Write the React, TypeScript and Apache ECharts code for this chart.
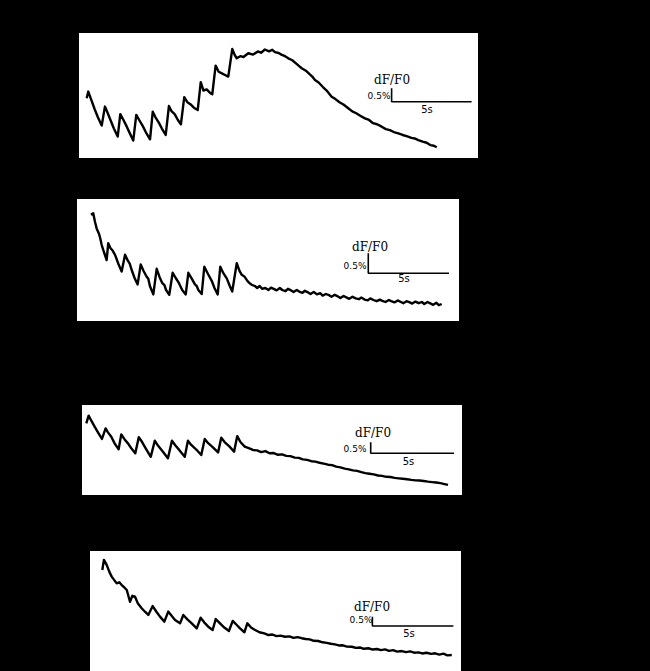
import React, { useEffect, useRef } from "react";
import * as echarts from "echarts";

// Time (s) and dF/F0 (%)
const trace1: number[][] = [
  [0, 1.93], [0.1, 2.18], [0.3, 1.85], [0.5, 1.52], [0.7, 1.22], [0.94, 0.91],
  [1.14, 1.62], [1.3, 1.4], [1.5, 1.1], [1.7, 0.8], [1.94, 0.5],
  [2.1, 1.34], [2.3, 1.12], [2.5, 0.88], [2.7, 0.62], [2.91, 0.35],
  [3.1, 1.31], [3.3, 1.1], [3.5, 0.9], [3.7, 0.66], [3.96, 0.4],
  [4.13, 1.43], [4.3, 1.22], [4.5, 1.03], [4.7, 0.8], [4.94, 0.56],
  [5.14, 1.64], [5.3, 1.45], [5.5, 1.34], [5.7, 1.12], [5.89, 0.96],
  [6.1, 1.97], [6.3, 1.78], [6.5, 1.7], [6.7, 1.58], [6.94, 1.49],
  [7.13, 2.53], [7.3, 2.22], [7.5, 2.26], [7.7, 2.14], [7.85, 2.08],
  [8.06, 3.15], [8.25, 2.92], [8.45, 2.86], [8.65, 2.8], [8.85, 2.74],
  [9.1, 3.77], [9.25, 3.55], [9.38, 3.42], [9.6, 3.5], [9.8, 3.47], [10.1, 3.61],
  [10.4, 3.56], [10.7, 3.68], [10.9, 3.63], [11.14, 3.75], [11.4, 3.68], [11.6, 3.74],
  [11.77, 3.65], [12.0, 3.62], [12.2, 3.55], [12.4, 3.5], [12.6, 3.42], [12.85, 3.35],
  [13.1, 3.22], [13.3, 3.12], [13.44, 3.05], [13.7, 2.96], [13.95, 2.82], [14.1, 2.74],
  [14.27, 2.61], [14.5, 2.52], [14.75, 2.36], [15.0, 2.22], [15.31, 1.99], [15.55, 1.9],
  [15.8, 1.78], [16.05, 1.7], [16.35, 1.56], [16.6, 1.44], [16.85, 1.37], [17.1, 1.28],
  [17.39, 1.18], [17.65, 1.12], [17.9, 1.0], [18.15, 0.96], [18.44, 0.87], [18.7, 0.78],
  [18.95, 0.74], [19.2, 0.67], [19.48, 0.62], [19.75, 0.56], [20.0, 0.52], [20.3, 0.45],
  [20.5, 0.43], [20.73, 0.37], [21.0, 0.31], [21.25, 0.27], [21.5, 0.18], [21.7, 0.16],
  [21.88, 0.1],
];

const trace2: number[][] = [
  [0, 2.38], [0.14, 2.42], [0.25, 2.2], [0.35, 2.04], [0.5, 1.9], [0.58, 1.78], [0.66, 1.63],
  [0.8, 1.45], [0.97, 1.25], [1.07, 1.67], [1.2, 1.55], [1.35, 1.48], [1.49, 1.38],
  [1.7, 1.15], [1.9, 0.96], [2.11, 1.38], [2.3, 1.22], [2.4, 1.16], [2.52, 1.0], [2.7, 0.8],
  [2.89, 0.64], [3.08, 1.14], [3.25, 0.98], [3.45, 0.83], [3.55, 0.78], [3.65, 0.6],
  [3.86, 0.39], [4.07, 1.03], [4.25, 0.82], [4.42, 0.67], [4.55, 0.62], [4.65, 0.5],
  [4.85, 0.38], [5.06, 0.93], [5.25, 0.8], [5.45, 0.67], [5.65, 0.5], [5.87, 0.39],
  [6.03, 0.93], [6.25, 0.78], [6.44, 0.64], [6.55, 0.6], [6.65, 0.5], [6.86, 0.4],
  [7.02, 1.08], [7.25, 0.9], [7.48, 0.73], [7.65, 0.55], [7.85, 0.39], [8.01, 1.08],
  [8.2, 0.92], [8.41, 0.79], [8.6, 0.6], [8.75, 0.46], [9.03, 1.17], [9.2, 0.98],
  [9.34, 0.88], [9.5, 0.84], [9.7, 0.72], [9.85, 0.66], [9.96, 0.63], [10.15, 0.6],
  [10.3, 0.55], [10.45, 0.6], [10.6, 0.53], [10.8, 0.55], [11.0, 0.5], [11.15, 0.56],
  [11.35, 0.52], [11.5, 0.49], [11.7, 0.55], [11.85, 0.5], [12.05, 0.47], [12.2, 0.53],
  [12.4, 0.49], [12.55, 0.45], [12.75, 0.5], [12.9, 0.46], [13.1, 0.43], [13.25, 0.48],
  [13.45, 0.44], [13.6, 0.4], [13.8, 0.45], [14.0, 0.39], [14.2, 0.42], [14.35, 0.36],
  [14.55, 0.4], [14.75, 0.37], [14.9, 0.33], [15.1, 0.38], [15.3, 0.34], [15.45, 0.3],
  [15.65, 0.35], [15.85, 0.31], [16.0, 0.28], [16.2, 0.33], [16.4, 0.29], [16.6, 0.27],
  [16.75, 0.31], [16.95, 0.26], [17.15, 0.24], [17.3, 0.29], [17.5, 0.25], [17.7, 0.22],
  [17.9, 0.26], [18.05, 0.23], [18.25, 0.2], [18.45, 0.25], [18.6, 0.22], [18.8, 0.19],
  [19.0, 0.24], [19.2, 0.2], [19.35, 0.17], [19.55, 0.22], [19.75, 0.19], [19.9, 0.16],
  [20.1, 0.21], [20.3, 0.17], [20.5, 0.2], [20.65, 0.15], [20.85, 0.2], [21.05, 0.16],
  [21.2, 0.13], [21.4, 0.18], [21.55, 0.12], [21.73, 0.15],
];

const trace3: number[][] = [
  [0, 3.03], [0.14, 3.38], [0.3, 3.15], [0.5, 2.88], [0.7, 2.62], [0.94, 2.32],
  [1.16, 2.8], [1.3, 2.62], [1.5, 2.42], [1.7, 2.12], [1.94, 1.85],
  [2.1, 2.53], [2.3, 2.3], [2.5, 2.12], [2.7, 1.9], [2.94, 1.67],
  [3.15, 2.4], [3.35, 2.18], [3.6, 1.85], [3.87, 1.51],
  [4.11, 2.24], [4.3, 2.02], [4.6, 1.74], [4.9, 1.44],
  [5.14, 2.24], [5.35, 2.02], [5.6, 1.8], [5.91, 1.51],
  [6.1, 2.24], [6.3, 2.05], [6.6, 1.84], [6.9, 1.59],
  [7.11, 2.32], [7.3, 2.14], [7.6, 1.94], [7.91, 1.71],
  [8.1, 2.38], [8.3, 2.18], [8.6, 1.97], [8.87, 1.74],
  [9.06, 2.45], [9.25, 2.18], [9.51, 1.97], [9.75, 1.9], [10.0, 1.82], [10.25, 1.8],
  [10.5, 1.72], [10.75, 1.77], [11.0, 1.67], [11.25, 1.68], [11.51, 1.6], [11.75, 1.62],
  [12.0, 1.55], [12.25, 1.54], [12.51, 1.47], [12.75, 1.46], [13.0, 1.39], [13.25, 1.37],
  [13.51, 1.31], [13.75, 1.29], [14.0, 1.24], [14.25, 1.2], [14.51, 1.15], [14.75, 1.13],
  [15.0, 1.06], [15.25, 1.03], [15.51, 0.97], [15.75, 0.94], [16.0, 0.89], [16.25, 0.87],
  [16.51, 0.81], [16.75, 0.77], [17.0, 0.74], [17.25, 0.71], [17.51, 0.66], [17.75, 0.64],
  [18.0, 0.6], [18.25, 0.59], [18.51, 0.55], [18.75, 0.53], [19.0, 0.51], [19.25, 0.49],
  [19.51, 0.46], [19.75, 0.44], [20.0, 0.43], [20.25, 0.41], [20.51, 0.38], [20.75, 0.36],
  [21.0, 0.34], [21.25, 0.31], [21.5, 0.27], [21.71, 0.23],
];

const trace4: number[][] = [
  [0, 5.11], [0.1, 5.65], [0.27, 5.38], [0.45, 4.98], [0.58, 4.75], [0.75, 4.55],
  [0.89, 4.39], [1.05, 4.45], [1.2, 4.3], [1.35, 4.18], [1.51, 4.03], [1.71, 3.4],
  [1.85, 3.72], [2.02, 3.67], [2.2, 3.3], [2.43, 3.05], [2.65, 2.85], [2.84, 2.69],
  [3.11, 3.17], [3.35, 2.85], [3.56, 2.6], [3.83, 2.33], [4.07, 2.87], [4.3, 2.62],
  [4.49, 2.42], [4.8, 2.24], [5.0, 2.69], [5.25, 2.45], [5.52, 2.24], [5.83, 1.97],
  [6.07, 2.54], [6.3, 2.28], [6.54, 2.06], [6.81, 1.88], [7.0, 2.47], [7.25, 2.25],
  [7.47, 2.06], [7.82, 1.83], [8.05, 2.37], [8.3, 2.15], [8.5, 1.97], [8.77, 1.76],
  [8.95, 2.24], [9.2, 2.0], [9.43, 1.88], [9.7, 1.76], [10.0, 1.7], [10.25, 1.61],
  [10.5, 1.64], [10.75, 1.55], [11.0, 1.58], [11.28, 1.52], [11.55, 1.54], [11.8, 1.46],
  [12.05, 1.5], [12.31, 1.44], [12.55, 1.4], [12.8, 1.38], [13.05, 1.3], [13.33, 1.29],
  [13.6, 1.22], [13.85, 1.19], [14.1, 1.14], [14.36, 1.11], [14.6, 1.05], [14.85, 1.06],
  [15.1, 0.99], [15.4, 0.98], [15.65, 0.92], [15.9, 0.94], [16.15, 0.87], [16.42, 0.9],
  [16.7, 0.83], [16.95, 0.86], [17.2, 0.8], [17.45, 0.84], [17.7, 0.76], [17.95, 0.8],
  [18.2, 0.72], [18.48, 0.75], [18.75, 0.69], [19.0, 0.73], [19.25, 0.66], [19.51, 0.68],
  [19.75, 0.62], [20.0, 0.66], [20.3, 0.6], [20.54, 0.63], [20.8, 0.56], [21.05, 0.61],
  [21.3, 0.52], [21.57, 0.54],
];

const traces = [trace1, trace2, trace3, trace4];

// scale bar sizes
const barSeconds = 5;
const barPercent = 0.5;
const yLabel = "dF/F0";
const pctLabel = "0.5%";
const secLabel = "5s";

// layout per panel (pixels and axis windows)
const panels = [
  { left: 79, top: 33, width: 399, height: 125, tMin: -0.48, tMax: 24.46, vMin: -0.299, vMax: 4.366,
    barT: 19.06, barV: 1.8, lab: [392, 80], pct: [379, 95.5], sec: [427, 109] },
  { left: 77, top: 199, width: 382, height: 122, tMin: -0.867, tMax: 22.8, vMin: -0.275, vMax: 2.775,
    barT: 17.18, barV: 0.92, lab: [370, 246.5], pct: [355, 266], sec: [404, 278.5] },
  { left: 82, top: 405, width: 380, height: 90, tMin: -0.258, tMax: 22.55, vMin: -0.227, vMax: 3.864,
    barT: 17.07, barV: 1.67, lab: [373, 433], pct: [355, 449], sec: [408.5, 461] },
  { left: 90, top: 551, width: 371, height: 120, tMin: -0.759, tMax: 22.14, vMin: -0.323, vMax: 6.129,
    barT: 16.67, barV: 2.1, lab: [372, 606.5], pct: [361, 620], sec: [409, 633] },
];

export default function App() {
  const ref = useRef<HTMLDivElement>(null);
  useEffect(() => {
    if (!ref.current) return;
    const chart = echarts.init(ref.current, undefined, { renderer: "svg" });
    const grids = panels.map((p) => ({
      left: p.left, top: p.top, width: p.width, height: p.height,
      show: true, backgroundColor: "#ffffff", borderWidth: 0,
    }));
    const xAxes = panels.map((p, i) => ({
      type: "value", gridIndex: i, min: p.tMin, max: p.tMax, show: false,
    }));
    const yAxes = panels.map((p, i) => ({
      type: "value", gridIndex: i, min: p.vMin, max: p.vMax, show: false,
    }));
    const series: any[] = [];
    panels.forEach((p, i) => {
      series.push({
        type: "line", xAxisIndex: i, yAxisIndex: i, data: traces[i],
        showSymbol: false, symbol: "none",
        lineStyle: { color: "#000", width: 2.4, join: "round" },
        silent: true,
      });
      series.push({
        type: "line", xAxisIndex: i, yAxisIndex: i,
        data: [[p.barT, p.barV + barPercent], [p.barT, p.barV], [p.barT + barSeconds, p.barV]],
        showSymbol: false, symbol: "none",
        lineStyle: { color: "#000", width: 1.6 },
        silent: true,
      });
    });
    const graphics: any[] = [];
    panels.forEach((p) => {
      graphics.push({
        type: "text", x: p.lab[0], y: p.lab[1],
        style: { text: yLabel, fill: "#000", font: "12px 'DejaVu Serif'", textAlign: "center", textVerticalAlign: "middle" },
      });
      graphics.push({
        type: "text", x: p.pct[0], y: p.pct[1],
        style: { text: pctLabel, fill: "#000", font: "9px 'DejaVu Sans'", textAlign: "center", textVerticalAlign: "middle" },
      });
      graphics.push({
        type: "text", x: p.sec[0], y: p.sec[1],
        style: { text: secLabel, fill: "#000", font: "10px 'DejaVu Sans'", textAlign: "center", textVerticalAlign: "middle" },
      });
    });
    chart.setOption({
      animation: false,
      backgroundColor: "#000000",
      grid: grids,
      xAxis: xAxes,
      yAxis: yAxes,
      series,
      graphic: graphics,
    });
    return () => chart.dispose();
  }, []);
  return (
    <div
      ref={ref}
      style={{ position: "fixed", left: 0, top: 0, width: 650, height: 671, background: "#000" }}
    />
  );
}
